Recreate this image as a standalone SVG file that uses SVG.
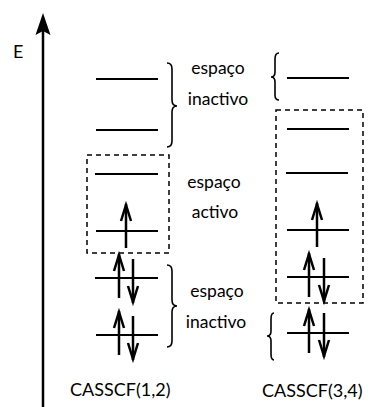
<svg xmlns="http://www.w3.org/2000/svg" width="381" height="407" viewBox="0 0 381 407">
<style>
.lvl{stroke:#000;stroke-width:2;fill:none}
.arr{stroke:#000;stroke-width:2.5;fill:none;stroke-linejoin:miter}
.box{stroke:#000;stroke-width:1.5;fill:none;stroke-dasharray:5,4}
.brace{stroke:#000;stroke-width:1.6;fill:none}
text{font-family:Lato,"Liberation Sans",sans-serif;fill:#000}
.lbl{font-size:17.5px;text-anchor:middle}
.cap{font-size:18px}
</style>
<defs>
<g id="up"><line x1="0" y1="0" x2="0" y2="44" class="arr"/><polyline points="-5,17 0,1 5,17" class="arr"/></g>
<g id="dn"><line x1="0" y1="0" x2="0" y2="-44" class="arr"/><polyline points="-5,-17 0,-1 5,-17" class="arr"/></g>
</defs>
<g id="axis">
<line x1="43" y1="407" x2="43" y2="30" stroke="#000" stroke-width="2.5"/>
<path d="M43,13 L50.5,35 L43,31 L35.5,35 Z" fill="#000"/>
<text x="13" y="58" style="font-size:18px">E</text>
</g>
<g id="left-inactive-top">
<line x1="96" y1="79" x2="158" y2="79" class="lvl"/>
<line x1="96" y1="130" x2="158" y2="130" class="lvl"/>
</g>
<g id="left-active">
<rect x="87" y="155" width="82" height="98" class="box"/>
<line x1="95" y1="174" x2="158" y2="174" class="lvl"/>
<line x1="96" y1="231" x2="158" y2="231" class="lvl"/>
<use href="#up" x="126" y="204"/>
</g>
<g id="left-inactive-bottom">
<line x1="95" y1="278" x2="158" y2="278" class="lvl"/>
<use href="#up" x="119" y="254"/>
<use href="#dn" x="133" y="303"/>
<line x1="96" y1="335" x2="158" y2="335" class="lvl"/>
<use href="#up" x="119" y="311"/>
<use href="#dn" x="133" y="360"/>
</g>
<g id="right-inactive-top">
<line x1="287" y1="78" x2="349" y2="78" class="lvl"/>
</g>
<g id="right-active">
<rect x="276" y="110" width="87" height="193" class="box"/>
<line x1="287" y1="129" x2="349" y2="129" class="lvl"/>
<line x1="286" y1="173" x2="348" y2="173" class="lvl"/>
<line x1="287" y1="230" x2="349" y2="230" class="lvl"/>
<use href="#up" x="317" y="203"/>
<line x1="287" y1="277" x2="349" y2="277" class="lvl"/>
<use href="#up" x="309" y="253"/>
<use href="#dn" x="324" y="302"/>
</g>
<g id="right-inactive-bottom">
<line x1="287" y1="333" x2="349" y2="333" class="lvl"/>
<use href="#up" x="309" y="309"/>
<use href="#dn" x="324" y="357"/>
</g>
<g id="braces">
<path class="brace" d="M167,63 Q172,63 172,69 L172,100 Q172,106 177,106 Q172,106 172,112 L172,141 Q172,147 167,147"/>
<path class="brace" d="M167,265 Q172,265 172,271 L172,300 Q172,306 177,306 Q172,306 172,312 L172,341 Q172,347 167,347"/>
<path class="brace" d="M279,53 Q275,53 275,59 L275,72 Q275,77 271,77 Q275,77 275,82 L275,95 Q275,100 279,100"/>
<path class="brace" d="M274,313 Q271,313 271,319 L271,331 Q271,336 267,336 Q271,336 271,341 L271,354 Q271,360 274,360"/>
</g>
<g id="labels">
<text class="lbl" x="218" y="74">espaço</text>
<text class="lbl" x="218" y="105">inactivo</text>
<text class="lbl" x="214" y="188">espaço</text>
<text class="lbl" x="215" y="218">activo</text>
<text class="lbl" x="217" y="297">espaço</text>
<text class="lbl" x="216" y="328">inactivo</text>
<text class="cap" x="70" y="396">CASSCF(1,2)</text>
<text class="cap" x="262" y="397">CASSCF(3,4)</text>
</g>
</svg>
